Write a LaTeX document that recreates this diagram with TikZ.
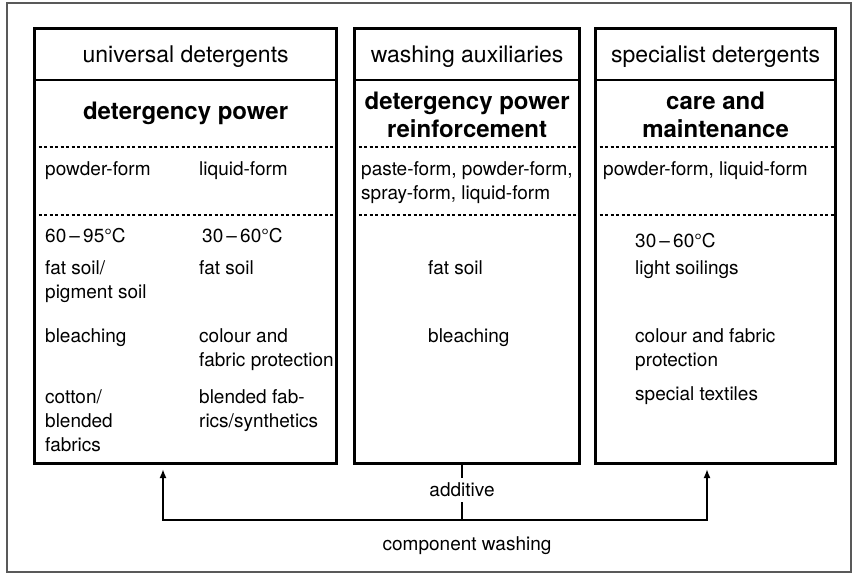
\documentclass[tikz,border=0pt]{standalone}
\usepackage{fontspec}
\setmainfont{TeX Gyre Heros}
\usetikzlibrary{arrows.meta,positioning}

\tikzset{
  panel/.style={draw, line width=3.2pt, inner sep=0pt, anchor=north west},
  head/.style={font=\fontsize{23}{28}\selectfont, anchor=base, inner sep=0pt},
  title/.style={font=\fontsize{24}{28}\selectfont\bfseries, anchor=base, align=center, inner sep=0pt},
  item/.style={font=\fontsize{19}{24}\selectfont, anchor=base west, align=left, inner sep=0pt},
  note/.style={font=\fontsize{19}{24}\selectfont, inner sep=0pt},
  rule/.style={line width=2.2pt},
  dots/.style={line width=1.1pt, dash pattern=on 3pt off 2.5pt},
  feed/.style={line width=2.4pt, -{Latex[length=9pt,width=7pt]}},
  frame/.style={draw=black!65, line width=1.2pt}
}

\begin{document}
\begin{tikzpicture}[x=1pt,y=-1pt]
  \useasboundingbox (0,0) rectangle (858,575);
  \draw[frame] (7,3) rectangle (851,572);

  % the three columns
  \node[panel, minimum width=302pt, minimum height=435pt] (uni) at (33,27) {};
  \node[panel, minimum width=225pt, minimum height=435pt] (aux) at (353,27) {};
  \node[panel, minimum width=240pt, minimum height=435pt] (spec) at (594,27) {};

  \foreach \p in {uni,aux,spec} {
    \draw[rule] (\p.west |- 0,80) -- (\p.east |- 0,80);
    \draw[dots] (\p.west |- 0,147) -- (\p.east |- 0,147);
    \draw[dots] (\p.west |- 0,215) -- (\p.east |- 0,215);
  }

  % headings (multi-line nodes sit on their last line)
  \node[head] at (uni.north |- 0,63) {universal detergents};
  \node[head] at (aux.north |- 0,63) {washing auxiliaries};
  \node[head] at (spec.north |- 0,63) {specialist detergents};

  \node[title] at (uni.north |- 0,119) {detergency power};
  \node[title] at (aux.north |- 0,137) {detergency power\\reinforcement};
  \node[title] at (spec.north |- 0,137) {care and\\maintenance};

  % universal detergents
  \node[item] at (45,175) {powder-form};
  \node[item] at (199,175) {liquid-form};
  \node[item] at (45,242) {60\,–\,95°C};
  \node[item] at (202,242) {30\,–\,60°C};
  \node[item] at (45,298) {fat soil/\\pigment soil};
  \node[item] at (199,274) {fat soil};
  \node[item] at (45,342) {bleaching};
  \node[item] at (199,366) {colour and\\fabric protection};
  \node[item] at (45,451) {cotton/\\blended\\fabrics};
  \node[item] at (199,427) {blended fab-\\rics/synthetics};

  % washing auxiliaries
  \node[item] at (361,199) {paste-form, powder-form,\\spray-form, liquid-form};
  \node[item] at (428,274) {fat soil};
  \node[item] at (428,342) {bleaching};

  % specialist detergents
  \node[item] at (603,175) {powder-form, liquid-form};
  \node[item] at (635,247) {30\,–\,60°C};
  \node[item] at (635,274) {light soilings};
  \node[item] at (635,366) {colour and fabric\\protection};
  \node[item] at (635,400) {special textiles};

  % feed lines
  \coordinate (join) at (462,520);
  \coordinate (uniin) at (163,469);
  \coordinate (specin) at (707,469);
  \draw[feed] (join) -| (uniin);
  \draw[feed] (join) -| (specin);
  \draw[rule] (aux.south -| join) -- (join)
    node[note, pos=0.45, fill=white, inner ysep=5pt, inner xsep=2pt] {additive};
  \node[note, below=16pt of join, xshift=5pt] {component washing};
\end{tikzpicture}
\end{document}
